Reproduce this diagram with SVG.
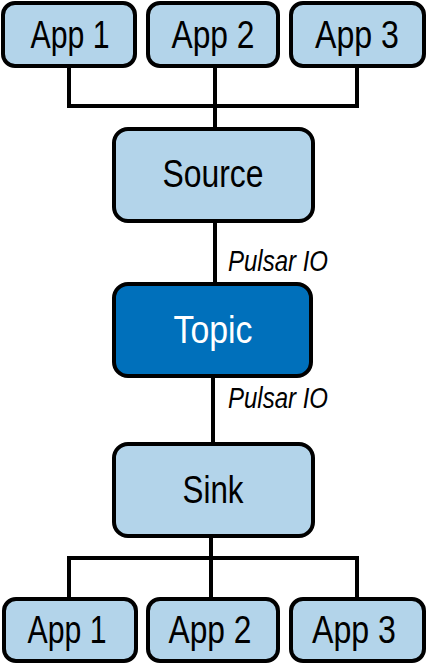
<svg xmlns="http://www.w3.org/2000/svg" width="427" height="666" viewBox="0 0 427 666">
<style>
.box{fill:#b3d4ea;stroke:#000;stroke-width:4}
.dark{fill:#0070bb;stroke:#000;stroke-width:4}
.t{font-family:"Liberation Sans",Arial,sans-serif;font-size:39px;fill:#000;text-anchor:middle}
.tw{fill:#fff}
.lbl{font-family:"Liberation Sans",Arial,sans-serif;font-size:30px;font-style:italic;fill:#000}
.c{fill:none;stroke:#000;stroke-width:4}
</style>
<rect width="427" height="666" fill="#fff"/>
<g id="connectors">
<path class="c" d="M69 66V106H357V66M215 66V129"/>
<path class="c" d="M215 221V284"/>
<path class="c" d="M213 376V444"/>
<path class="c" d="M211 536V599M69 599V558H357V599"/>
<text class="lbl" x="228" y="271" textLength="100" lengthAdjust="spacingAndGlyphs">Pulsar IO</text>
<text class="lbl" x="228" y="408" textLength="100" lengthAdjust="spacingAndGlyphs">Pulsar IO</text>
</g>
<g id="app1-top"><rect class="box" x="3" y="3" width="132" height="63" rx="12"/><text class="t" x="70" y="48" textLength="79" lengthAdjust="spacingAndGlyphs">App 1</text></g>
<g id="app2-top"><rect class="box" x="148" y="3" width="130" height="63" rx="12"/><text class="t" x="213" y="48" textLength="83" lengthAdjust="spacingAndGlyphs">App 2</text></g>
<g id="app3-top"><rect class="box" x="291" y="3" width="133" height="63" rx="12"/><text class="t" x="357" y="48" textLength="84" lengthAdjust="spacingAndGlyphs">App 3</text></g>
<g id="source"><rect class="box" x="114" y="129" width="199" height="92" rx="14"/><text class="t" x="213" y="187" textLength="101" lengthAdjust="spacingAndGlyphs">Source</text></g>
<g id="topic"><rect class="dark" x="114" y="284" width="197" height="92" rx="14"/><text class="t tw" x="213" y="343" textLength="79" lengthAdjust="spacingAndGlyphs">Topic</text></g>
<g id="sink"><rect class="box" x="114" y="444" width="199" height="92" rx="14"/><text class="t" x="213" y="503" textLength="61" lengthAdjust="spacingAndGlyphs">Sink</text></g>
<g id="app1-bottom"><rect class="box" x="4" y="599" width="132" height="62" rx="12"/><text class="t" x="67" y="643" textLength="79" lengthAdjust="spacingAndGlyphs">App 1</text></g>
<g id="app2-bottom"><rect class="box" x="148" y="599" width="130" height="62" rx="12"/><text class="t" x="210" y="643" textLength="83" lengthAdjust="spacingAndGlyphs">App 2</text></g>
<g id="app3-bottom"><rect class="box" x="291" y="599" width="133" height="62" rx="12"/><text class="t" x="354" y="643" textLength="84" lengthAdjust="spacingAndGlyphs">App 3</text></g>
</svg>
